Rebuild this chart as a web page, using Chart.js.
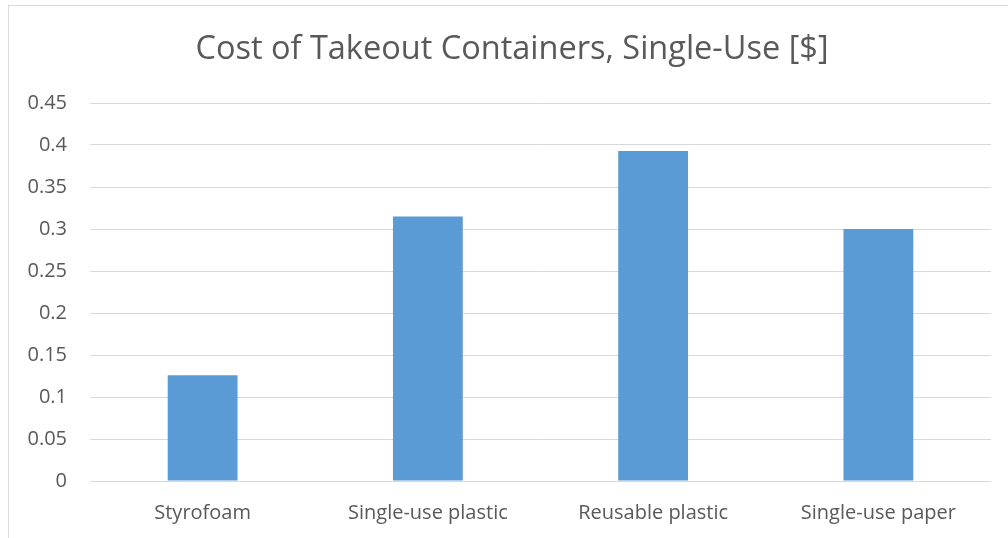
<!DOCTYPE html>
<html>
<head>
<meta charset="utf-8">
<script src="https://cdn.jsdelivr.net/npm/chart.js@4"></script>
<style>
  html, body { margin: 0; padding: 0; background: #fff; overflow: hidden; }
  #frame {
    position: absolute; left: 8px; top: 5px; width: 1100px; height: 600px;
    border-left: 1px solid #d9d9d9; border-top: 1px solid #d9d9d9;
  }
  #grafico { position: absolute; left: 0; top: 0; }
</style>
</head>
<body>
<div id="frame"></div>
<canvas id="grafico" width="1008" height="538"></canvas>
<script>
const titulo = "Cost of Takeout Containers, Single-Use [$]";
const categorias = ["Styrofoam", "Single-use plastic", "Reusable plastic", "Single-use paper"];
const costos = [0.126, 0.315, 0.393, 0.30];
const etiquetasY = ["0", "0.05", "0.1", "0.15", "0.2", "0.25", "0.3", "0.35", "0.4", "0.45"];

const gris = "#595959";
const fuente = "'Open Sans', 'Noto Sans', sans-serif";

// El título va centrado sobre todo el marco, no solo sobre el área del gráfico
const tituloMarco = {
  id: "tituloMarco",
  afterDraw(chart) {
    const c = chart.ctx;
    c.save();
    c.fillStyle = gris;
    c.font = "32.5px " + fuente;
    c.textAlign = "center";
    c.textBaseline = "middle";
    c.fillText(titulo, 512, 50);
    c.restore();
  }
};

const ctx = document.getElementById("grafico").getContext("2d");

new Chart(ctx, {
  type: "bar",
  data: {
    labels: categorias,
    datasets: [{
      label: "Costo",
      data: costos,
      backgroundColor: "#5b9bd5",
      borderWidth: 0,
      categoryPercentage: 1,
      barPercentage: 0.31
    }]
  },
  plugins: [tituloMarco],
  options: {
    responsive: false,
    animation: false,
    layout: { padding: { left: 0, right: 17, top: 103, bottom: 0 } },
    plugins: {
      legend: { display: false },
      tooltip: { enabled: false },
      title: { display: false }
    },
    scales: {
      x: {
        grid: { display: false },
        border: { display: false },
        ticks: { color: gris, font: { family: fuente, size: 20 }, padding: 12, maxRotation: 0 },
        afterFit: s => { s.height = 57; }
      },
      y: {
        min: 0,
        max: 0.45,
        grid: { color: "#d9d9d9", lineWidth: 1, drawTicks: false },
        border: { display: false },
        ticks: {
          stepSize: 0.05,
          color: gris,
          padding: 23,
          font: { family: fuente, size: 20 },
          callback: (v, i) => etiquetasY[i]
        },
        afterFit: s => { s.width = 90; }
      }
    }
  }
});
</script>
</body>
</html>
